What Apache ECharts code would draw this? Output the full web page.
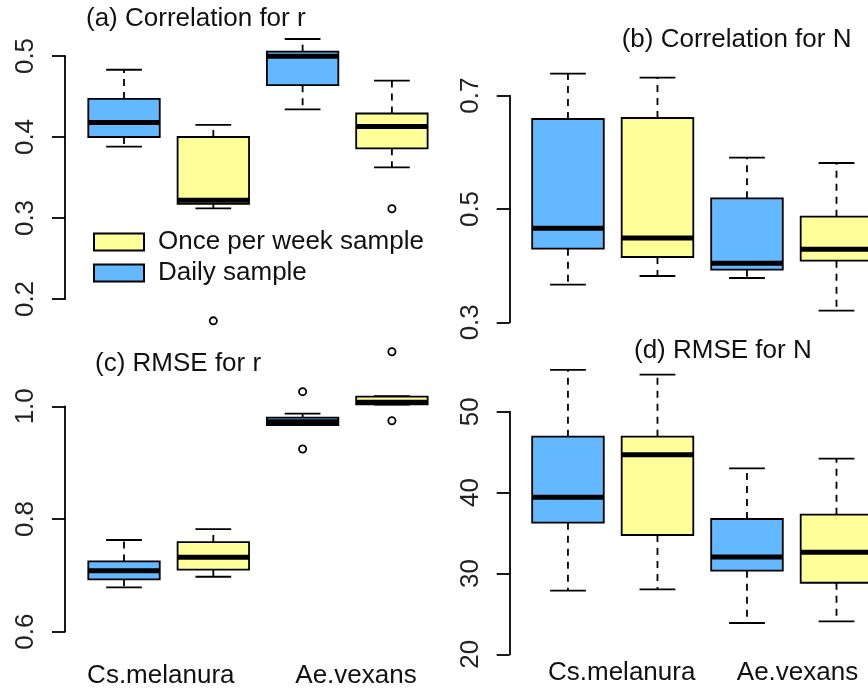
<!DOCTYPE html>
<html>
<head>
<meta charset="utf-8">
<script src="https://cdn.jsdelivr.net/npm/echarts@6/dist/echarts.min.js"></script>
<style>
html,body{margin:0;padding:0;background:#fff;}
#c{width:868px;height:691px;}
</style>
</head>
<body>
<div id="c"></div>
<script>
// ---- data: [lower whisker, Q1, median, Q3, upper whisker] per species ----
const species = ['Cs.melanura', 'Ae.vexans'];
const seriesNames = ['Daily sample', 'Once per week sample'];

const corrR_daily  = [[0.388, 0.400, 0.418, 0.447, 0.483], [0.434, 0.464, 0.4996, 0.5053, 0.521]];
const corrR_weekly = [[0.312, 0.3176, 0.322, 0.400, 0.415], [0.3626, 0.386, 0.413, 0.429, 0.4696]];
const corrR_daily_out  = [];
const corrR_weekly_out = [[0, 0.173], [1, 0.3114]];

const corrN_daily  = [[0.3664, 0.430, 0.466, 0.6589, 0.7388], [0.3782, 0.3929, 0.4042, 0.5189, 0.5906]];
const corrN_weekly = [[0.3817, 0.4153, 0.4488, 0.6606, 0.7318], [0.3205, 0.4087, 0.4289, 0.4864, 0.5812]];
const corrN_daily_out  = [];
const corrN_weekly_out = [];

const rmseR_daily  = [[0.6787, 0.6929, 0.7082, 0.7248, 0.7627], [0.9668, 0.9668, 0.9727, 0.9798, 0.9869]];
const rmseR_weekly = [[0.6975, 0.710, 0.7319, 0.7591, 0.7822], [1.003, 1.0035, 1.007, 1.017, 1.018]];
const rmseR_daily_out  = [[1, 1.026], [1, 0.9242]];
const rmseR_weekly_out = [[1, 1.0969], [1, 0.9744]];

const rmseN_daily  = [[27.87, 36.28, 39.41, 46.91, 55.16], [23.87, 30.34, 32.03, 36.73, 43.0]];
const rmseN_weekly = [[28.04, 34.75, 44.68, 46.91, 54.58], [24.08, 28.85, 32.61, 37.26, 44.19]];
const rmseN_daily_out  = [];
const rmseN_weekly_out = [];

const ticksA = [0.2, 0.3, 0.4, 0.5];
const ticksB = [0.3, 0.5, 0.7];
const ticksC = [0.6, 0.8, 1.0];
const ticksD = [20, 30, 40, 50];

const titles = ['(a) Correlation for r', '(b) Correlation for N', '(c) RMSE for r', '(d) RMSE for N'];

// ---- styling ----
const BLUE = '#63B8FF';
const YELLOW = '#FFFF99';
const FONT = 'Liberation Sans, Arial, Helvetica, sans-serif';
const LW = 1.8;

function boxRows(arr, offset) {
  return arr.map((v, i) => [1 + 2 * i + offset].concat(v));
}
function outRows(arr, offset) {
  return arr.map(o => [1 + 2 * o[0] + offset, o[1]]);
}

function boxRender(fill) {
  return function (params, api) {
    const x = api.value(0);
    const lo = api.value(1), q1 = api.value(2), md = api.value(3), q3 = api.value(4), hi = api.value(5);
    const c = (xx, yy) => api.coord([xx, yy]);
    const hw = 0.4, sw = 0.2;
    const pHi = c(x, hi), pQ3 = c(x, q3), pQ1 = c(x, q1), pLo = c(x, lo);
    const tl = c(x - hw, q3), br = c(x + hw, q1);
    const cHiL = c(x - sw, hi), cHiR = c(x + sw, hi);
    const cLoL = c(x - sw, lo), cLoR = c(x + sw, lo);
    const mL = c(x - hw, md), mR = c(x + hw, md);
    const dash = { stroke: '#000', lineWidth: LW, lineDash: [7, 6] };
    const solid = { stroke: '#000', lineWidth: LW };
    return {
      type: 'group',
      children: [
        { type: 'line', shape: { x1: pQ3[0], y1: pQ3[1], x2: pHi[0], y2: pHi[1] }, style: dash },
        { type: 'line', shape: { x1: pQ1[0], y1: pQ1[1], x2: pLo[0], y2: pLo[1] }, style: dash },
        { type: 'line', shape: { x1: cHiL[0], y1: cHiL[1], x2: cHiR[0], y2: cHiR[1] }, style: solid },
        { type: 'line', shape: { x1: cLoL[0], y1: cLoL[1], x2: cLoR[0], y2: cLoR[1] }, style: solid },
        { type: 'rect', shape: { x: tl[0], y: tl[1], width: br[0] - tl[0], height: br[1] - tl[1] },
          style: { fill: fill, stroke: '#000', lineWidth: LW } },
        { type: 'line', shape: { x1: mL[0], y1: mL[1], x2: mR[0], y2: mR[1] },
          style: { stroke: '#000', lineWidth: 5 } }
      ]
    };
  };
}
function outRender(params, api) {
  const p = api.coord([api.value(0), api.value(1)]);
  return { type: 'circle', shape: { cx: p[0], cy: p[1], r: 3.6 },
           style: { fill: 'none', stroke: '#000', lineWidth: LW } };
}

const panels = [
  { d: corrR_daily, w: corrR_weekly, dOut: corrR_daily_out, wOut: corrR_weekly_out, ticks: ticksA, dec: 1 },
  { d: corrN_daily, w: corrN_weekly, dOut: corrN_daily_out, wOut: corrN_weekly_out, ticks: ticksB, dec: 1 },
  { d: rmseR_daily, w: rmseR_weekly, dOut: rmseR_daily_out, wOut: rmseR_weekly_out, ticks: ticksC, dec: 1 },
  { d: rmseN_daily, w: rmseN_weekly, dOut: rmseN_daily_out, wOut: rmseN_weekly_out, ticks: ticksD, dec: 0 }
];

const gridPos = [
  { left: 65, top: 56, width: 372, height: 243, xmin: 0.339, xmax: 4.505 },
  { left: 509.7, top: 95.7, width: 358.3, height: 226.6, xmin: 0.349, xmax: 4.352 },
  { left: 65, top: 406.3, width: 372, height: 225.4, xmin: 0.339, xmax: 4.505 },
  { left: 509.7, top: 411.7, width: 358.3, height: 242.6, xmin: 0.349, xmax: 4.352 }
];

const grid = [], xAxis = [], yAxis = [], series = [];
panels.forEach((p, i) => {
  const g = gridPos[i];
  grid.push({ left: g.left, top: g.top, width: g.width, height: g.height });
  xAxis.push({ type: 'value', gridIndex: i, min: g.xmin, max: g.xmax, show: false });
  yAxis.push({
    type: 'value', gridIndex: i,
    min: p.ticks[0], max: p.ticks[p.ticks.length - 1],
    splitLine: { show: false },
    axisLine: { show: true, lineStyle: { color: '#000', width: LW } },
    axisTick: { show: true, length: 13, lineStyle: { color: '#000', width: LW }, customValues: p.ticks },
    axisLabel: {
      rotate: 90, margin: 26, fontSize: 26, fontFamily: FONT, color: '#222',
      customValues: p.ticks,
      formatter: v => Number(v).toFixed(p.dec)
    }
  });
  series.push({
    name: seriesNames[0], type: 'custom', xAxisIndex: i, yAxisIndex: i,
    renderItem: boxRender(BLUE), data: boxRows(p.d, 0),
    encode: { x: 0, y: [1, 2, 3, 4, 5] }, itemStyle: { color: BLUE }, clip: false
  });
  series.push({
    name: seriesNames[1], type: 'custom', xAxisIndex: i, yAxisIndex: i,
    renderItem: boxRender(YELLOW), data: boxRows(p.w, 1),
    encode: { x: 0, y: [1, 2, 3, 4, 5] }, itemStyle: { color: YELLOW }, clip: false
  });
  const outs = outRows(p.dOut, 0).concat(outRows(p.wOut, 1));
  if (outs.length) {
    series.push({
      name: 'outliers', type: 'custom', xAxisIndex: i, yAxisIndex: i,
      renderItem: outRender, data: outs, encode: { x: 0, y: 1 }, clip: false
    });
  }
});

// species label axes under panels (c) and (d): labels sit at the two ends of each axis
const labelGrids = [
  { left: 160.8, top: 640, width: 195.2, height: 10, margin: 13 },
  { left: 621.7, top: 640, width: 175.8, height: 10, margin: 9.5 }
];
labelGrids.forEach((g, k) => {
  const gi = grid.length;
  grid.push({ left: g.left, top: g.top, width: g.width, height: g.height });
  xAxis.push({
    type: 'category', gridIndex: gi, data: species, boundaryGap: false,
    axisLine: { show: false }, axisTick: { show: false },
    axisLabel: { margin: g.margin, fontSize: 26, fontFamily: FONT, color: '#111', lineHeight: 26,
                 interval: 0, showMinLabel: true, showMaxLabel: true, hideOverlap: false }
  });
  yAxis.push({ type: 'value', gridIndex: gi, show: false });
});

const titlePos = [
  { left: 86, top: 6 },
  { left: 621.7, top: 27 },
  { left: 95, top: 351 },
  { left: 634, top: 338 }
];
const title = titles.map((t, i) => ({
  text: t, left: titlePos[i].left, top: titlePos[i].top, padding: 0,
  textStyle: { fontSize: 26, fontWeight: 'normal', fontFamily: FONT, color: '#111', lineHeight: 26 }
}));

const chart = echarts.init(document.getElementById('c'), null, { renderer: 'canvas' });
chart.setOption({
  animation: false,
  backgroundColor: '#fff',
  title: title,
  legend: {
    orient: 'vertical', left: 93, top: 226.5, padding: 0, itemGap: 0,
    itemWidth: 50, itemHeight: 17, selectedMode: false,
    data: [
      { name: seriesNames[1], icon: 'rect', itemStyle: { color: YELLOW, borderColor: '#000', borderWidth: 2 } },
      { name: seriesNames[0], icon: 'rect', itemStyle: { color: BLUE, borderColor: '#000', borderWidth: 2 } }
    ],
    textStyle: { fontSize: 26, fontFamily: FONT, color: '#111', lineHeight: 31, padding: [0, 0, 0, 9] }
  },
  grid: grid,
  xAxis: xAxis,
  yAxis: yAxis,
  series: series
});
</script>
</body>
</html>
